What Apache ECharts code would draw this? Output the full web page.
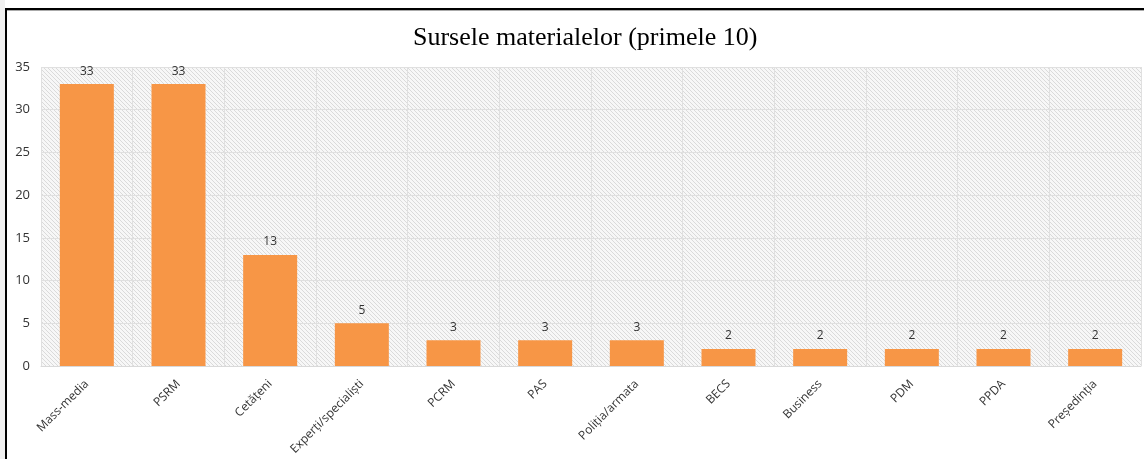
<!DOCTYPE html>
<html lang="ro">
<head>
    <meta charset="UTF-8">
    <title>Sursele materialelor</title>
    <style>
        body { margin: 0; background: #fff; }
    </style>
</head>
<body>
<div id="main" style="width:1144px;height:459px;"></div>
<script src="https://cdn.jsdelivr.net/npm/echarts@6/dist/echarts.min.js"></script>
<script>
    var categories = ['Mass-media', 'PSRM', 'Cetățeni', 'Experți/specialiști', 'PCRM', 'PAS',
        'Poliția/armata', 'BECS', 'Business', 'PDM', 'PPDA', 'Președinția'];
    var values = [33, 33, 13, 5, 3, 3, 3, 2, 2, 2, 2, 2];
    var yTicks = [0, 5, 10, 15, 20, 25, 30, 35];

    // hasura diagonala pentru fundalul zonei de desen
    function hatch() {
        var c = document.createElement('canvas');
        c.width = 4;
        c.height = 4;
        var ctx = c.getContext('2d');
        ctx.fillStyle = '#f7f7f7';
        ctx.fillRect(0, 0, 4, 4);
        ctx.fillStyle = '#dadada';
        for (var i = 0; i < 4; i++) {
            ctx.fillRect(i, i, 1, 1);
        }
        return c;
    }

    var myChart = echarts.init(document.getElementById('main'));
    var option = {
        animation: false,
        backgroundColor: '#fff',
        title: {
            text: 'Sursele materialelor (primele 10)',
            left: 408,
            top: 20,
            textStyle: {
                fontFamily: 'Liberation Serif',
                fontWeight: 'normal',
                fontSize: 26,
                color: '#000'
            }
        },
        graphic: [
            {type: 'rect', shape: {x: 0, y: 0, width: 5, height: 459}, style: {fill: '#f0f0f0'}, z: 100},
            {type: 'rect', shape: {x: 5, y: 8, width: 2, height: 451}, style: {fill: '#000'}, z: 100},
            {type: 'rect', shape: {x: 5, y: 8, width: 1139, height: 2}, style: {fill: '#000'}, z: 100},
            {type: 'rect', shape: {x: 7, y: 10, width: 1137, height: 1}, style: {fill: '#aaa'}, z: 100}
        ],
        grid: {
            left: 41,
            right: 3,
            top: 67,
            bottom: 93,
            show: true,
            borderWidth: 0,
            backgroundColor: {image: hatch(), repeat: 'repeat'}
        },
        xAxis: {
            type: 'category',
            data: categories,
            axisLine: {show: true, lineStyle: {color: '#d9d9d9'}},
            axisTick: {show: false},
            splitLine: {show: true, lineStyle: {color: '#e0e0e0'}},
            axisLabel: {
                interval: 0,
                rotate: 45,
                margin: 16,
                fontFamily: 'Open Sans',
                fontSize: 12,
                color: '#333'
            }
        },
        yAxis: {
            type: 'value',
            min: 0,
            max: 35,
            interval: 5,
            axisLine: {show: false},
            axisTick: {show: false},
            splitLine: {lineStyle: {color: '#e0e0e0'}},
            axisLabel: {
                margin: 11,
                fontFamily: 'Open Sans',
                fontSize: 13,
                color: '#333',
                formatter: function (v) {
                    return yTicks.indexOf(v) >= 0 ? String(v) : '';
                }
            }
        },
        series: [{
            type: 'bar',
            data: values,
            barWidth: 54,
            itemStyle: {color: '#f79646'},
            label: {
                show: true,
                position: 'top',
                distance: 7,
                fontFamily: 'Open Sans',
                fontSize: 12,
                color: '#333'
            }
        }]
    };
    myChart.setOption(option);
</script>
</body>
</html>
